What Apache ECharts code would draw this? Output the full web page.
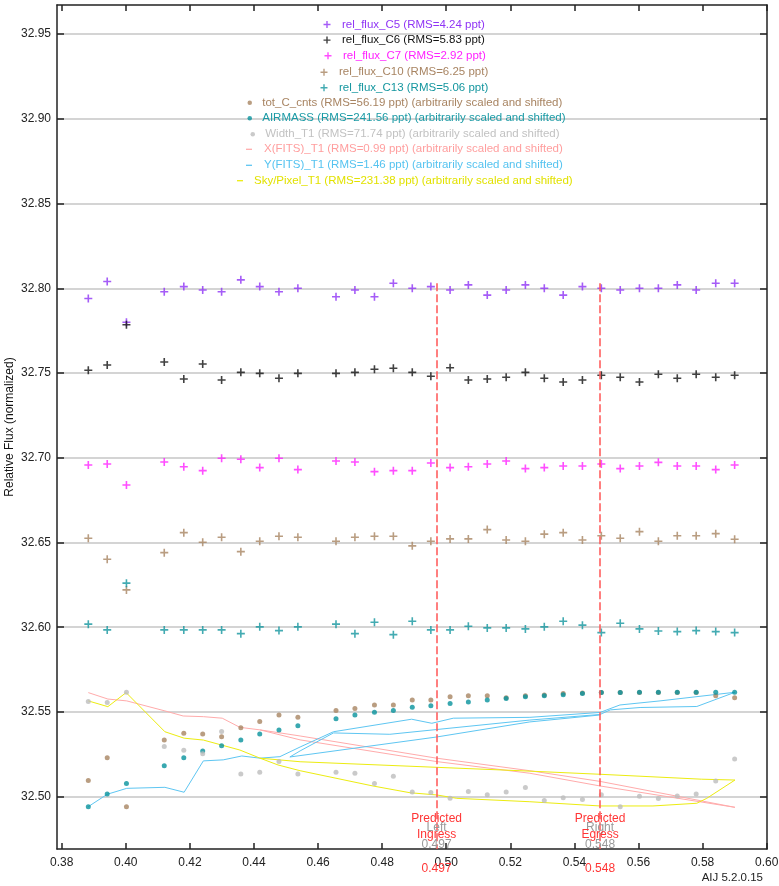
<!DOCTYPE html>
<html>
<head>
<meta charset="utf-8">
<title>Relative flux vs phase</title>
<script src="https://cdn.jsdelivr.net/npm/echarts@6/dist/echarts.min.js"></script>
<style>
  html, body { margin: 0; padding: 0; background: #ffffff; }
  #chart { width: 779px; height: 886px; }
</style>
</head>
<body>
<div id="chart"></div>
<script>
// ---- phase of each exposure ----
const phase = [0.3883, 0.3942, 0.4002, 0.4120, 0.4181, 0.4240, 0.4299, 0.4359, 0.4418, 0.4478, 0.4537,
  0.4656, 0.4715, 0.4776, 0.4835, 0.4894, 0.4952, 0.5012, 0.5069, 0.5128, 0.5187, 0.5247, 0.5306,
  0.5365, 0.5425, 0.5484, 0.5543, 0.5603, 0.5662, 0.5721, 0.5780, 0.5841, 0.5900];

// ---- relative flux of the comparison stars (shifted) ----
const relFluxC5 = [32.794, 32.804, 32.780, 32.798, 32.801, 32.799, 32.798, 32.805, 32.801, 32.798, 32.800,
  32.795, 32.799, 32.795, 32.803, 32.800, 32.801, 32.799, 32.802, 32.796, 32.799, 32.802, 32.800,
  32.796, 32.801, 32.800, 32.799, 32.800, 32.800, 32.802, 32.799, 32.803, 32.803];
const relFluxC6 = [32.7516, 32.7547, 32.7785, 32.7565, 32.7465, 32.7553, 32.7459, 32.7504, 32.7498, 32.7469, 32.7498,
  32.7498, 32.7504, 32.7522, 32.7528, 32.7504, 32.7481, 32.7531, 32.7459, 32.7465, 32.7475, 32.7504, 32.7469,
  32.7447, 32.7459, 32.7487, 32.7475, 32.7447, 32.7493, 32.7469, 32.7493, 32.7475, 32.7487];
const relFluxC7 = [32.6957, 32.6963, 32.6839, 32.6975, 32.6947, 32.6924, 32.6997, 32.6991, 32.6942, 32.6997, 32.6930,
  32.6981, 32.6975, 32.6918, 32.6924, 32.6924, 32.6969, 32.6942, 32.6947, 32.6963, 32.6981, 32.6936, 32.6942,
  32.6951, 32.6951, 32.6963, 32.6936, 32.6951, 32.6973, 32.6951, 32.6951, 32.6930, 32.6957];
const relFluxC10 = [32.6525, 32.6401, 32.6220, 32.6440, 32.6558, 32.6501, 32.6531, 32.6446, 32.6507, 32.6537, 32.6531,
  32.6507, 32.6531, 32.6537, 32.6537, 32.6480, 32.6507, 32.6521, 32.6521, 32.6576, 32.6515, 32.6507, 32.6549,
  32.6558, 32.6515, 32.6540, 32.6525, 32.6564, 32.6507, 32.6540, 32.6540, 32.6552, 32.6519];
const relFluxC13 = [32.6018, 32.5984, 32.6260, 32.5984, 32.5984, 32.5984, 32.5984, 32.5962, 32.6002, 32.5980, 32.6002,
  32.6018, 32.5962, 32.6029, 32.5956, 32.6035, 32.5984, 32.5984, 32.6006, 32.5996, 32.5996, 32.5990, 32.6002,
  32.6035, 32.6012, 32.5968, 32.6023, 32.5990, 32.5978, 32.5974, 32.5980, 32.5974, 32.5968];

// ---- auxiliary quantities (arbitrarily scaled and shifted) ----
const totCCnts = [32.5095, 32.5229, 32.4941, 32.5335, 32.5374, 32.5369, 32.5354, 32.5407, 32.5443, 32.5482, 32.5469,
  32.5508, 32.5520, 32.5541, 32.5541, 32.5571, 32.5571, 32.5590, 32.5596, 32.5596, 32.5584, 32.5596, 32.5600,
  32.5608, 32.5612, 32.5614, 32.5614, 32.5614, 32.5614, 32.5614, 32.5614, 32.5596, 32.5584];
const airmass = [32.4941, 32.5015, 32.5077, 32.5183, 32.5229, 32.5270, 32.5301, 32.5335, 32.5370, 32.5394, 32.5419,
  32.5459, 32.5482, 32.5498, 32.5508, 32.5528, 32.5537, 32.5549, 32.5559, 32.5571, 32.5579, 32.5590, 32.5596,
  32.5602, 32.5608, 32.5614, 32.5614, 32.5616, 32.5616, 32.5616, 32.5616, 32.5616, 32.5616];
const widthT1 = [32.5561, 32.5555, 32.5616, 32.5296, 32.5274, 32.5253, 32.5384, 32.5133, 32.5144, 32.5207, 32.5133,
  32.5144, 32.5138, 32.5077, 32.5121, 32.5027, 32.5024, 32.4991, 32.5030, 32.5011, 32.5027, 32.5054, 32.4977,
  32.4993, 32.4983, 32.5011, 32.4940, 32.5003, 32.4989, 32.5004, 32.5016, 32.5093, 32.5222];

// line traces (drawn in acquisition order)
const xFitsPhase = [0.3883, 0.3944, 0.4003, 0.4122, 0.4179, 0.4242, 0.4301, 0.4356, 0.4419, 0.4544, 0.4970, 0.5261,
  0.5480, 0.5901, 0.5480, 0.5261, 0.4970, 0.4544, 0.4419];
const xFitsVal = [32.5614, 32.5576, 32.5565, 32.5506, 32.5476, 32.5472, 32.5463, 32.5409, 32.5394, 32.5335, 32.5207, 32.5138,
  32.5063, 32.4937, 32.5090, 32.5153, 32.5227, 32.5358, 32.5394];
const yFitsPhase = [0.3883, 0.3942, 0.4003, 0.4122, 0.4182, 0.4242, 0.4304, 0.4362, 0.4419, 0.4481, 0.4544, 0.4648,
  0.4892, 0.4955, 0.5022, 0.5261, 0.5480, 0.5542, 0.5667, 0.5901, 0.5782, 0.5605, 0.5512, 0.5480, 0.5261, 0.4970,
  0.4824, 0.4648, 0.4544, 0.4512, 0.4970, 0.5261, 0.5480];
const yFitsVal = [32.4941, 32.5014, 32.5049, 32.5055, 32.5026, 32.5211, 32.5217, 32.5240, 32.5227, 32.5236, 32.5293, 32.5383,
  32.5457, 32.5433, 32.5463, 32.5468, 32.5497, 32.5541, 32.5565, 32.5616, 32.5532, 32.5526, 32.5512, 32.5485, 32.5452, 32.5396,
  32.5368, 32.5376, 32.5270, 32.5234, 32.5352, 32.5441, 32.5482];
const skyPhase = [0.3883, 0.3944, 0.4001, 0.4122, 0.4182, 0.4242, 0.4356, 0.4419, 0.4475, 0.4544, 0.4771, 0.4887, 0.4970,
  0.5033, 0.5261, 0.5480, 0.5645, 0.5782, 0.5813, 0.5901, 0.5797, 0.5480, 0.5230, 0.4970, 0.4544, 0.4419];
const skyVal = [32.5565, 32.5531, 32.5614, 32.5383, 32.5345, 32.5334, 32.5275, 32.5227, 32.5187, 32.5153, 32.5063, 32.5023, 32.5010,
  32.4990, 32.4970, 32.4945, 32.4945, 32.4961, 32.4990, 32.5098, 32.5103, 32.5132, 32.5153, 32.5173, 32.5206, 32.5227];

// ---- axes ----
const xTicks = [0.38, 0.40, 0.42, 0.44, 0.46, 0.48, 0.50, 0.52, 0.54, 0.56, 0.58, 0.60];
const yTicks = [32.50, 32.55, 32.60, 32.65, 32.70, 32.75, 32.80, 32.85, 32.90, 32.95];
const xRange = [0.37853, 0.6001];
const yRange = [32.4691, 32.9672];

// predicted transit contacts
const ingress = 0.497;
const egress = 0.548;
const markerTop = 32.803;

const FONT = '"Liberation Sans", Arial, sans-serif';
const PLUS = 'path://M3.2,0h1.6v3.2h3.2v1.6h-3.2v3.2h-1.6v-3.2h-3.2v-1.6h3.2z';

const pairs = (xs, ys) => xs.map((x, i) => [x, ys[i]]);

// name, values, colour, text colour
const fluxSets = [
  ['rel_flux_C5 (RMS=4.24 ppt)', relFluxC5, '#8f33f5', '#8f33f5'],
  ['rel_flux_C6 (RMS=5.83 ppt)', relFluxC6, '#111111', '#111111'],
  ['rel_flux_C7 (RMS=2.92 ppt)', relFluxC7, '#ff22ff', '#ff22ff'],
  ['rel_flux_C10 (RMS=6.25 ppt)', relFluxC10, '#a88462', '#a88462'],
  ['rel_flux_C13 (RMS=5.06 ppt)', relFluxC13, '#14969f', '#14969f']
];
const dotSets = [
  ['tot_C_cnts (RMS=56.19 ppt) (arbitrarily scaled and shifted)', totCCnts, '#a88462', '#a88462'],
  ['AIRMASS (RMS=241.56 ppt) (arbitrarily scaled and shifted)', airmass, '#08929c', '#1a9aa5'],
  ['Width_T1 (RMS=71.74 ppt) (arbitrarily scaled and shifted)', widthT1, '#bdbdbd', '#c2c2c2']
];
const lineSets = [
  ['X(FITS)_T1 (RMS=0.99 ppt) (arbitrarily scaled and shifted)', pairs(xFitsPhase, xFitsVal), '#ffabab', '#ff9e9e'],
  ['Y(FITS)_T1 (RMS=1.46 ppt) (arbitrarily scaled and shifted)', pairs(yFitsPhase, yFitsVal), '#5ec6f2', '#55c3f0'],
  ['Sky/Pixel_T1 (RMS=231.38 ppt) (arbitrarily scaled and shifted)', pairs(skyPhase, skyVal), '#ecec10', '#e2e200']
];

const series = [];
// reference lines: horizontal grid and predicted contacts
series.push({
  type: 'line', name: '__grid', data: [], silent: true, z: 0,
  markLine: {
    silent: true, symbol: ['none', 'none'], z: 0, animation: false,
    label: { show: false },
    lineStyle: { color: '#c6c6c6', width: 1.5, type: 'solid' },
    data: yTicks.map(v => ({ yAxis: v }))
  }
});
lineSets.forEach(([name, data, color]) => {
  series.push({
    type: 'line', name, data, showSymbol: false, symbol: 'none', z: 2,
    color, lineStyle: { color, width: 1 }, silent: true, animation: false
  });
});
dotSets.forEach(([name, vals, color]) => {
  series.push({
    type: 'scatter', name, data: pairs(phase, vals), symbol: 'circle', symbolSize: 5, z: 3,
    itemStyle: { color }, silent: true
  });
});
fluxSets.forEach(([name, vals, color]) => {
  series.push({
    type: 'scatter', name, data: pairs(phase, vals), symbol: PLUS, symbolSize: 8, z: 4,
    itemStyle: { color }, silent: true
  });
});
series.push({
  type: 'line', name: '__contacts', data: [], silent: true, z: 5,
  markLine: {
    silent: true, symbol: ['none', 'none'], animation: false,
    label: { show: false },
    lineStyle: { color: '#ff5555', width: 1.5, type: [8, 3] },
    data: [ingress, egress].map(p => [{ coord: [p, markerTop] }, { coord: [p, yRange[0]] }])
  }
});

// legend rows: [series set, icon kind, left, centre y]
const legendRows = [
  [fluxSets[0], 'plus', 323.5, 24.5],
  [fluxSets[1], 'plus', 323.5, 40.1],
  [fluxSets[2], 'plus', 324.5, 55.7],
  [fluxSets[3], 'plus', 320.5, 72.3],
  [fluxSets[4], 'plus', 320.5, 87.7],
  [dotSets[0], 'dot', 247.5, 102.7],
  [dotSets[1], 'dot', 247.5, 118.3],
  [dotSets[2], 'dot', 250.5, 134.3],
  [lineSets[0], 'dash', 246, 149.3],
  [lineSets[1], 'dash', 246, 165.3],
  [lineSets[2], 'dash', 237, 180.7]
];
const legends = legendRows.map(([set, kind, left, cy]) => {
  const icon = kind === 'plus' ? PLUS : (kind === 'dot' ? 'circle' : 'rect');
  const iw = kind === 'plus' ? 20 : (kind === 'dot' ? 15 : 6);
  const ih = kind === 'plus' ? 7 : (kind === 'dot' ? 4.5 : 1.3);
  const pad = kind === 'dash' ? (left === 237 ? 6 : 7) : 0;
  return {
    show: true, orient: 'horizontal', left, top: cy - 7, padding: 0,
    itemWidth: iw, itemHeight: ih, itemGap: 0, selectedMode: false,
    itemStyle: { borderWidth: 0 },
    data: [{
      name: set[0], icon,
      textStyle: { color: set[3], fontSize: 11.5, fontFamily: FONT, lineHeight: 14, padding: [0, 0, 0, pad] }
    }]
  };
});

const axisLineStyle = { color: '#222222', width: 1.5 };
const tickStyle = { color: '#222222', width: 1.5 };

const option = {
  animation: false,
  backgroundColor: '#ffffff',
  textStyle: { fontFamily: FONT },
  grid: { left: 57, right: 12, top: 5, bottom: 37, containLabel: false, outerBoundsMode: 'none' },
  legend: legends,
  xAxis: [
    {
      type: 'value', position: 'bottom', min: xRange[0], max: xRange[1],
      axisLine: { show: true, onZero: false, lineStyle: axisLineStyle },
      axisTick: { show: true, inside: true, length: 6, customValues: xTicks, lineStyle: tickStyle },
      axisLabel: {
        show: true, customValues: xTicks, margin: 8, color: '#222222', fontSize: 12, fontFamily: FONT,
        formatter: v => v.toFixed(2)
      },
      splitLine: { show: false }
    },
    {
      type: 'value', position: 'top', min: xRange[0], max: xRange[1],
      axisLine: { show: true, onZero: false, lineStyle: axisLineStyle },
      axisTick: { show: true, inside: true, length: 6, customValues: xTicks, lineStyle: tickStyle },
      axisLabel: { show: false },
      splitLine: { show: false }
    }
  ],
  yAxis: [
    {
      type: 'value', position: 'left', min: yRange[0], max: yRange[1],
      name: 'Relative Flux (normalized)', nameLocation: 'middle', nameGap: 41, nameMoveOverlap: false,
      nameTextStyle: { color: '#111111', fontSize: 12, fontFamily: FONT },
      axisLine: { show: true, onZero: false, lineStyle: axisLineStyle },
      axisTick: { show: true, inside: true, length: 7, customValues: yTicks, lineStyle: tickStyle },
      axisLabel: {
        show: true, customValues: yTicks, margin: 6, color: '#222222', fontSize: 12, fontFamily: FONT,
        formatter: v => v.toFixed(2)
      },
      splitLine: { show: false }
    },
    {
      type: 'value', position: 'right', min: yRange[0], max: yRange[1],
      axisLine: { show: true, onZero: false, lineStyle: axisLineStyle },
      axisTick: { show: true, inside: true, length: 7, customValues: yTicks, lineStyle: tickStyle },
      axisLabel: { show: false },
      splitLine: { show: false }
    }
  ],
  series
};

const chart = echarts.init(document.getElementById('chart'), null, { renderer: 'canvas' });
chart.setOption(option);

// contact annotations, anchored to the axis scales
const yBase = chart.convertToPixel({ yAxisIndex: 0 }, yRange[0]);
const textBase = {
  fontSize: 12, fontFamily: FONT,
  align: 'center', verticalAlign: 'middle', textAlign: 'center', textVerticalAlign: 'middle'
};
const graphics = [];
[[ingress, 'Left', 'Ingress'], [egress, 'Right', 'Egress']].forEach(([p, side, kind]) => {
  const px = chart.convertToPixel({ xAxisIndex: 0 }, p);
  graphics.push({
    type: 'text', x: px, y: yBase - 13, z: 10,
    style: Object.assign({}, textBase, { text: side + '\n' + p.toFixed(3), fill: '#9a9a9a', lineHeight: 17 })
  });
  graphics.push({
    type: 'text', x: px, y: yBase - 22, z: 11,
    style: Object.assign({}, textBase, { text: 'Predicted\n' + kind, fill: '#ff3535', lineHeight: 16 })
  });
  graphics.push({
    type: 'text', x: px, y: yBase + 20, z: 11,
    style: Object.assign({}, textBase, { text: p.toFixed(3), fill: '#ff3535' })
  });
});
graphics.push({
  type: 'text', right: 16, bottom: 2, z: 10,
  style: { text: 'AIJ 5.2.0.15', fill: '#222222', fontSize: 11.5, fontFamily: FONT }
});
chart.setOption({ graphic: graphics });
</script>
</body>
</html>
